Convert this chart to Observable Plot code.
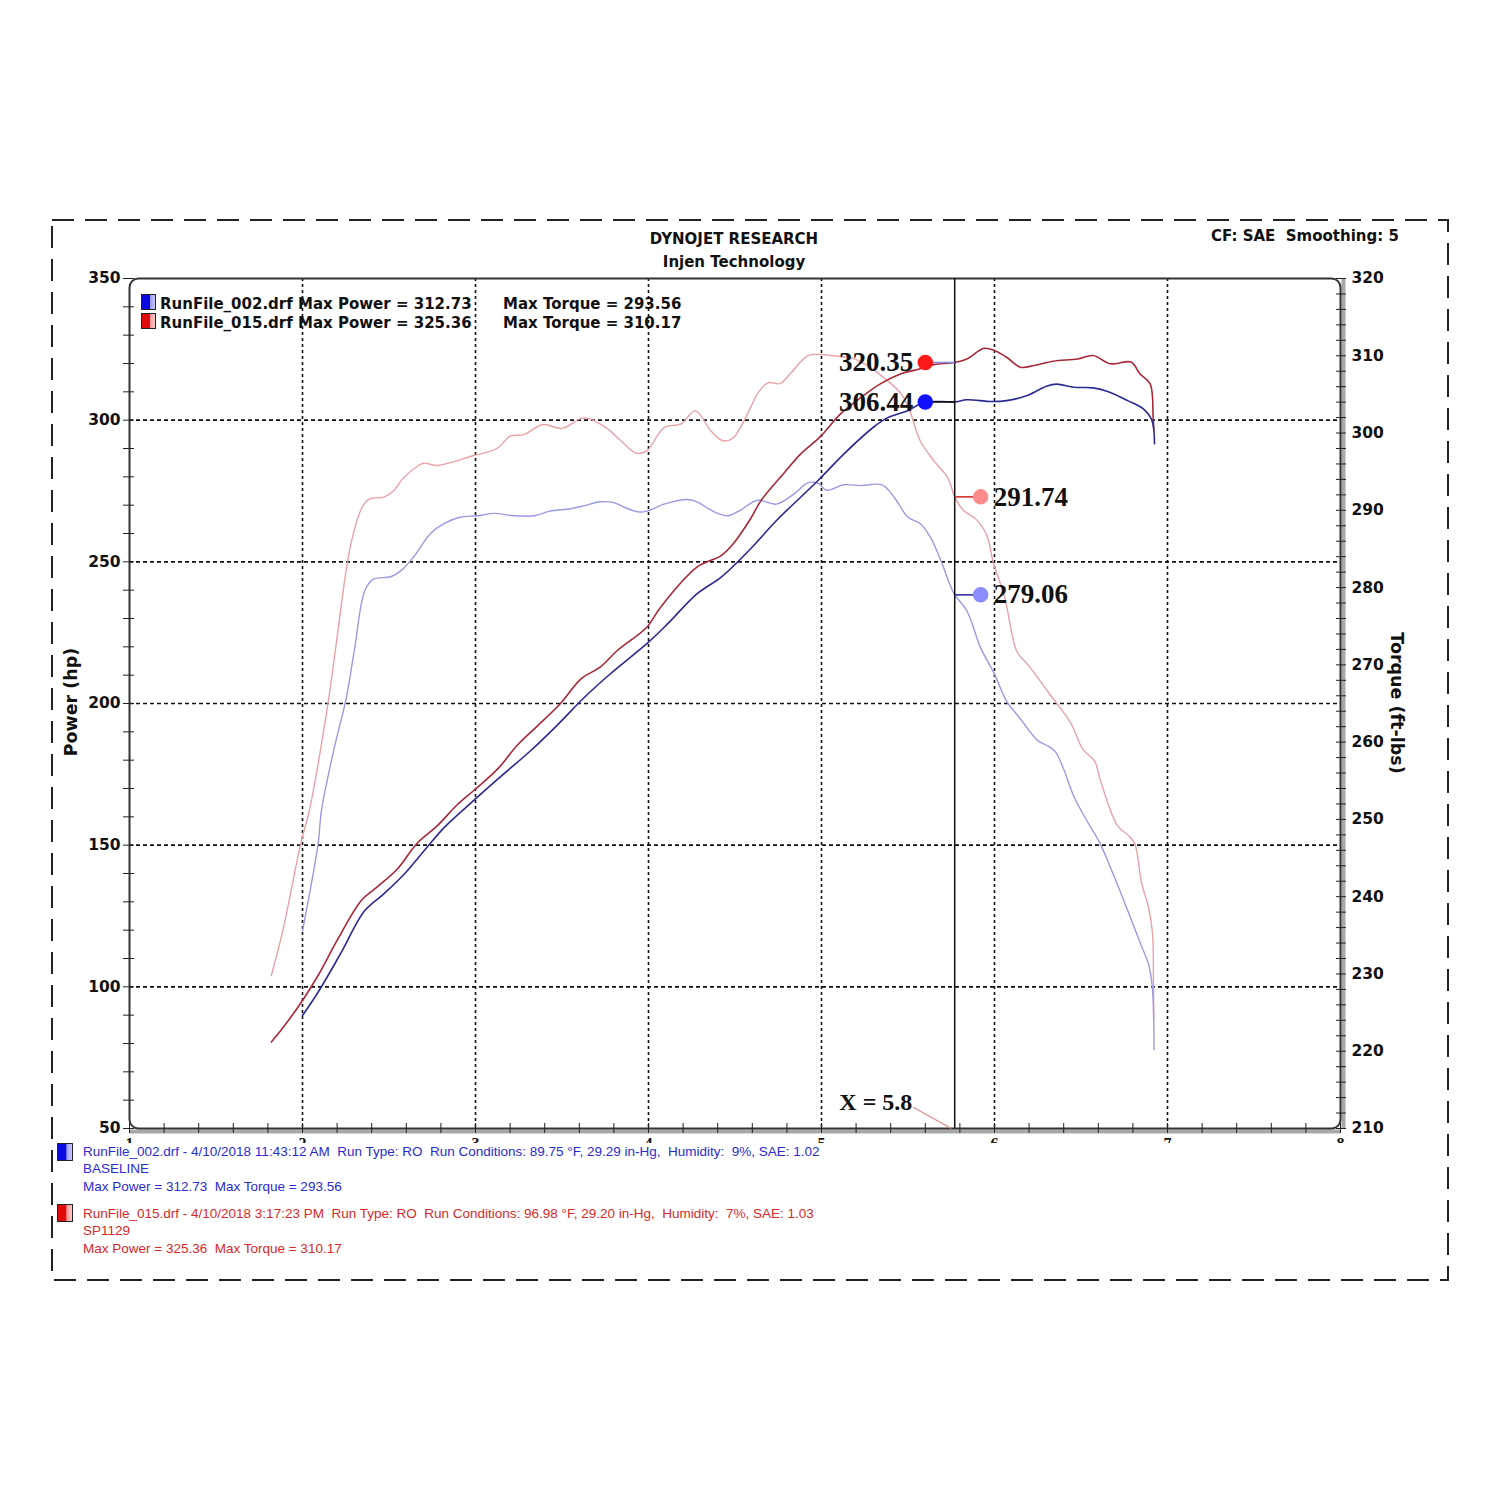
<!DOCTYPE html>
<html><head><meta charset="utf-8">
<script src="https://cdn.jsdelivr.net/npm/d3@7"></script>
<script src="https://cdn.jsdelivr.net/npm/@observablehq/plot@0.6"></script>
<style>
body{margin:0;background:#fff;width:1500px;height:1500px;position:relative;overflow:hidden;}
.abs{position:absolute;white-space:pre;line-height:1;}
.b15{font:bold 15px "DejaVu Sans",sans-serif;color:#111;}
.leg{font:13.5px "Liberation Sans",Arial,sans-serif;line-height:1;}
.sq{position:absolute;width:13px;height:14px;border:1px solid #222;}
.sqb{background:linear-gradient(to right,#0a0ae0 0%,#0a0ae0 58%,#9a9aff 62%,#c8c8ff 100%);}
.sqr{background:linear-gradient(to right,#e00a0a 0%,#e00a0a 58%,#ff9a9a 62%,#ffc8c8 100%);}
#chart{position:absolute;left:0;top:0;}
</style></head>
<body>
<svg class="abs" style="left:0;top:0" width="1500" height="1500"><rect x="52" y="220" width="1396" height="1060" fill="none" stroke="#222" stroke-width="2" stroke-dasharray="22 11"/></svg>
<div id="chart"></div>
<div class="abs b15" style="left:0;width:1468px;text-align:center;top:230px">DYNOJET RESEARCH</div>
<div class="abs b15" style="left:0;width:1468px;text-align:center;top:253px">Injen Technology</div>
<div class="abs b15" style="left:1211px;top:227px">CF: SAE  Smoothing: 5</div>
<div class="sq sqb" style="left:141px;top:294px"></div>
<div class="sq sqr" style="left:141px;top:313px"></div>
<div class="abs b15" style="left:160px;top:295px" id="l1"></div>
<div class="abs b15" style="left:160px;top:314px" id="l2"></div>
<div class="abs b15" style="left:503px;top:295px" id="l3"></div>
<div class="abs b15" style="left:503px;top:314px" id="l4"></div>
<div class="sq sqb" style="left:57px;top:1143px;width:14px;height:16px"></div>
<div class="sq sqr" style="left:57px;top:1204px;width:14px;height:16px"></div>
<div class="abs leg" style="left:83px;top:1145px;color:#2b2bd0" id="f1"></div>
<div class="abs leg" style="left:83px;top:1162px;color:#2b2bd0" id="f2"></div>
<div class="abs leg" style="left:83px;top:1180px;color:#2b2bd0" id="f3"></div>
<div class="abs leg" style="left:83px;top:1207px;color:#d62a2a" id="f4"></div>
<div class="abs leg" style="left:83px;top:1224px;color:#d62a2a" id="f5"></div>
<div class="abs leg" style="left:83px;top:1242px;color:#d62a2a" id="f6"></div>
<script>
// ---------- data ----------
const runNames = ["RunFile_002.drf", "RunFile_015.drf"];
const runNotes = ["BASELINE", "SP1129"];
const runHeaders = [
  "RunFile_002.drf - 4/10/2018 11:43:12 AM  Run Type: RO  Run Conditions: 89.75 °F, 29.29 in-Hg,  Humidity:  9%, SAE: 1.02",
  "RunFile_015.drf - 4/10/2018 3:17:23 PM  Run Type: RO  Run Conditions: 96.98 °F, 29.20 in-Hg,  Humidity:  7%, SAE: 1.03"
];
const maxPower = [312.73, 325.36];
const maxTorque = [293.56, 310.17];

// Power (hp) vs RPM (x1000)
const powerRpm002 = [2.00,2.09,2.22,2.36,2.47,2.59,2.72,2.82,2.99,3.13,3.32,3.47,3.63,3.78,3.99,4.11,4.28,4.42,4.59,4.74,4.98,5.13,5.30,5.38,5.50,5.59,5.69,5.77,5.84,5.98,6.07,6.19,6.30,6.36,6.46,6.57,6.65,6.77,6.86,6.91,6.925];
const power002    = [89.9,98.1,111.7,126.9,132.8,139.9,149.3,156.3,165.8,173.4,183.4,192.2,202.2,210.5,221.1,228.1,238.7,244.6,254.6,264.6,278.7,288.1,297.5,300.8,303.4,306.2,306.6,306.44,307.2,306.6,306.9,308.7,312.0,312.73,311.6,311.4,310.2,306.9,304.0,299.9,291.7];
const powerRpm015 = [1.82,1.89,2.00,2.09,2.20,2.34,2.43,2.55,2.66,2.78,2.89,2.99,3.13,3.24,3.36,3.49,3.61,3.72,3.82,3.99,4.07,4.28,4.42,4.49,4.59,4.65,4.78,4.88,4.99,5.11,5.23,5.34,5.46,5.55,5.65,5.77,5.84,5.94,6.00,6.07,6.15,6.23,6.34,6.48,6.57,6.67,6.79,6.84,6.90,6.917,6.921];
const power015    = [80.5,85.8,95.2,104.0,116.4,130.5,135.2,141.7,150.5,156.9,164.0,169.3,177.0,185.2,192.2,199.9,208.7,212.8,218.7,226.9,234.0,248.1,252.2,256.4,265.2,271.6,281.1,288.1,294.0,302.2,308.1,312.8,316.4,317.8,319.6,320.35,321.6,325.36,324.6,322.2,318.7,319.3,320.8,321.6,322.8,319.9,320.5,316.4,312.8,301.1,296.4];

// Torque (ft-lbs) vs RPM (x1000)
const torqueRpm002 = [2.00,2.03,2.09,2.11,2.18,2.25,2.30,2.36,2.41,2.51,2.57,2.64,2.74,2.82,2.91,3.01,3.11,3.22,3.34,3.43,3.55,3.63,3.72,3.80,3.86,3.94,3.99,4.09,4.22,4.28,4.38,4.46,4.53,4.63,4.74,4.84,4.92,4.98,5.03,5.13,5.23,5.35,5.42,5.50,5.57,5.63,5.69,5.74,5.77,5.84,5.92,6.00,6.07,6.15,6.25,6.30,6.35,6.40,6.46,6.54,6.61,6.69,6.77,6.85,6.89,6.913,6.922];
const torque002    = [235.6,239.1,246.8,251.2,258.9,265.4,271.9,279.6,281.1,281.4,282.2,283.9,287.0,288.3,289.1,289.3,289.6,289.3,289.3,289.9,290.2,290.6,291.1,291.0,290.4,289.8,289.9,290.8,291.4,291.1,289.8,289.3,290.0,291.3,290.8,292.1,293.56,293.5,292.6,293.3,293.2,293.3,291.7,289.1,288.3,286.5,283.5,280.5,279.06,277.0,272.2,268.8,265.3,263.0,260.2,259.6,258.8,256.5,252.9,249.6,246.9,242.7,238.2,233.6,231.3,228.1,220.2];
const torqueRpm015 = [1.82,1.89,1.99,2.04,2.15,2.19,2.28,2.35,2.39,2.47,2.53,2.58,2.67,2.70,2.78,2.86,2.99,3.05,3.13,3.20,3.28,3.39,3.50,3.61,3.65,3.76,3.84,3.93,3.99,4.09,4.19,4.27,4.36,4.43,4.49,4.59,4.63,4.69,4.76,4.82,4.92,4.99,5.07,5.19,5.28,5.38,5.46,5.51,5.57,5.65,5.73,5.77,5.82,5.90,5.96,5.99,6.06,6.13,6.19,6.32,6.44,6.51,6.58,6.61,6.71,6.77,6.81,6.85,6.89,6.913,6.919,6.92];
const torque015    = [229.8,236.0,246.9,251.2,265.4,271.9,285.7,290.6,291.5,291.7,292.6,294.1,295.8,296.1,295.8,296.2,297.1,297.4,298.1,299.6,299.8,301.1,300.6,301.9,301.9,300.6,299.0,297.4,297.7,300.7,301.2,302.9,300.3,299.0,299.4,303.3,305.1,306.5,306.4,307.7,310.0,310.17,310.0,309.6,308.5,306.8,305.1,302.9,299.0,296.4,294.2,291.74,290.0,288.7,286.5,283.5,278.6,271.7,270.1,266.2,262.5,259.1,257.5,255.2,249.2,248.0,246.9,241.8,238.6,235.4,228.1,224.0];

// cursor readout
const cursorRpm = 5.77;
const cursorLabel = "X = 5.8";
const cursorPower = [306.44, 320.35];   // 002, 015
const cursorTorque = [279.06, 291.74];  // 002, 015

// axes
const xTicks = [1,2,3,4,5,6,7,8];
const xGrid = [2,3,4,5,6,7];
const leftTicks = [50,100,150,200,250,300,350];
const leftGrid = [100,150,200,250,300];
const rightTicks = [210,220,230,240,250,260,270,280,290,300,310,320];

// ---------- chart ----------
const tq2hp = t => 50 + (t - 210) * 300 / 110;
const hp2tq = h => 210 + (h - 50) * 110 / 300;
const zip = (xs, ys) => xs.map((x, i) => ({rpm: x, v: ys[i]}));
const p002 = zip(powerRpm002, power002), p015 = zip(powerRpm015, power015);
const t002 = zip(torqueRpm002, torque002), t015 = zip(torqueRpm015, torque015);

const powerAnn = [
  {v: cursorPower[1], dot: "#ff1a1a", lead: "#8c8ce6"},
  {v: cursorPower[0], dot: "#1010ff", lead: "#111"}
];
const torqueAnn = [
  {v: cursorTorque[1], dot: "#ff8c8c", lead: "#d83030"},
  {v: cursorTorque[0], dot: "#8c8cff", lead: "#3030a8"}
];
const pDotX = cursorRpm - 0.17, tDotX = cursorRpm + 0.15;

const axisFont = {fontSize: 15.5, fontWeight: "bold", fontFamily: "DejaVu Sans"};
const minorX = d3.range(10, 81, 2).map(d => d / 10);
const minorL = d3.range(50, 351, 10);
const minorR = d3.range(210, 321, 2);

const serif = {fontFamily: "Liberation Serif", fontWeight: "bold", fontSize: 27, fill: "#111"};

const chart = Plot.plot({
  width: 1500, height: 1143,
  marginLeft: 129, marginRight: 160, marginTop: 278, marginBottom: 15,
  x: {domain: [1, 8], axis: null},
  y: {domain: [50, 350], axis: null},
  style: {background: "transparent", overflow: "hidden"},
  marks: [
    Plot.gridX(xGrid, {stroke: "#111", strokeOpacity: 1, strokeWidth: 1.6, strokeDasharray: "3,3"}),
    Plot.gridY(leftGrid, {stroke: "#111", strokeOpacity: 1, strokeWidth: 1.6, strokeDasharray: "4,3"}),
    Plot.ruleX([8], {dx: 3, stroke: "#a8a8a8", strokeWidth: 4}),
    Plot.ruleY([50], {dy: 3, stroke: "#a8a8a8", strokeWidth: 4}),
    Plot.frame({rx: 9, stroke: "#333", strokeWidth: 2}),
    // ticks
    Plot.axisY(minorL, {anchor: "left", tickSize: 11, dx: 5, tickFormat: () => "", stroke: "#222", label: null}),
    Plot.axisY(leftTicks, {anchor: "left", tickSize: 0, tickPadding: 9, label: null, color: "#111", ...axisFont}),
    Plot.axisY(minorR.map(tq2hp), {anchor: "right", tickSize: 10, dx: -5, tickFormat: () => "", stroke: "#222", label: null}),
    Plot.axisY(rightTicks.map(tq2hp), {anchor: "right", tickSize: 0, tickPadding: 11, tickFormat: d => String(Math.round(hp2tq(d))), label: null, color: "#111", ...axisFont}),
    Plot.axisX(minorX, {anchor: "bottom", tickSize: 10, dy: -5, tickFormat: () => "", stroke: "#222", label: null}),
    Plot.axisX(xTicks, {anchor: "bottom", tickSize: 0, tickPadding: 9, tickFormat: d => String(d), label: null, color: "#111", fontSize: 16, fontWeight: "bold", fontFamily: "Liberation Serif"}),
    // curves
    Plot.line(t015, {x: "rpm", y: d => tq2hp(d.v), stroke: "#e8a2a8", strokeWidth: 1.4, curve: "catmull-rom"}),
    Plot.line(t002, {x: "rpm", y: d => tq2hp(d.v), stroke: "#9a9ae2", strokeWidth: 1.4, curve: "catmull-rom"}),
    Plot.line(p015, {x: "rpm", y: "v", stroke: "#a82838", strokeWidth: 1.6, curve: "catmull-rom"}),
    Plot.line(p002, {x: "rpm", y: "v", stroke: "#2a2a92", strokeWidth: 1.6, curve: "catmull-rom"}),
    // cursor
    Plot.ruleX([cursorRpm], {stroke: "#111", strokeWidth: 1.5}),
    Plot.link([cursorRpm], {x1: d => d - 0.24, y1: 57.5, x2: d => d - 0.02, y2: 50, stroke: "#e08a8a", strokeWidth: 1.2}),
    Plot.text([cursorLabel], {x: cursorRpm - 0.245, y: 59.3, text: d => d, textAnchor: "end", ...serif, fontSize: 24}),
    // readouts
    Plot.link(powerAnn, {x1: pDotX, x2: cursorRpm, y1: "v", y2: "v", stroke: "lead", strokeWidth: 1.6}),
    Plot.link(torqueAnn, {x1: cursorRpm, x2: tDotX, y1: d => tq2hp(d.v), y2: d => tq2hp(d.v), stroke: "lead", strokeWidth: 1.6}),
    Plot.dot(powerAnn, {x: pDotX, y: "v", r: 7, fill: "dot", stroke: "dot"}),
    Plot.dot(torqueAnn, {x: tDotX, y: d => tq2hp(d.v), r: 7, fill: "dot", stroke: "dot"}),
    Plot.text(powerAnn, {x: pDotX, y: "v", text: d => d.v.toFixed(2), textAnchor: "end", dx: -12, ...serif}),
    Plot.text(torqueAnn, {x: tDotX, y: d => tq2hp(d.v), text: d => d.v.toFixed(2), textAnchor: "start", dx: 13, ...serif})
  ]
});
document.getElementById("chart").append(chart);

// labels
const svgNS = "http://www.w3.org/2000/svg";
function rotLabel(txt, x, y, angle) {
  const t = document.createElementNS(svgNS, "text");
  t.setAttribute("transform", `translate(${x},${y}) rotate(${angle})`);
  t.setAttribute("text-anchor", "middle");
  t.setAttribute("dominant-baseline", "middle");
  t.setAttribute("font-family", "DejaVu Sans");
  t.setAttribute("font-weight", "bold");
  t.setAttribute("font-size", "17.5");
  t.setAttribute("fill", "#111");
  t.textContent = txt;
  chart.append(t);
}
rotLabel("Power (hp)", 72, 702, -90);
rotLabel("Torque (ft-lbs)", 1396, 703, 90);

document.getElementById("l1").textContent = `${runNames[0]} Max Power = ${maxPower[0].toFixed(2)}`;
document.getElementById("l2").textContent = `${runNames[1]} Max Power = ${maxPower[1].toFixed(2)}`;
document.getElementById("l3").textContent = `Max Torque = ${maxTorque[0].toFixed(2)}`;
document.getElementById("l4").textContent = `Max Torque = ${maxTorque[1].toFixed(2)}`;
document.getElementById("f1").textContent = runHeaders[0];
document.getElementById("f2").textContent = runNotes[0];
document.getElementById("f3").textContent = `Max Power = ${maxPower[0].toFixed(2)}  Max Torque = ${maxTorque[0].toFixed(2)}`;
document.getElementById("f4").textContent = runHeaders[1];
document.getElementById("f5").textContent = runNotes[1];
document.getElementById("f6").textContent = `Max Power = ${maxPower[1].toFixed(2)}  Max Torque = ${maxTorque[1].toFixed(2)}`;
</script>
</body></html>
